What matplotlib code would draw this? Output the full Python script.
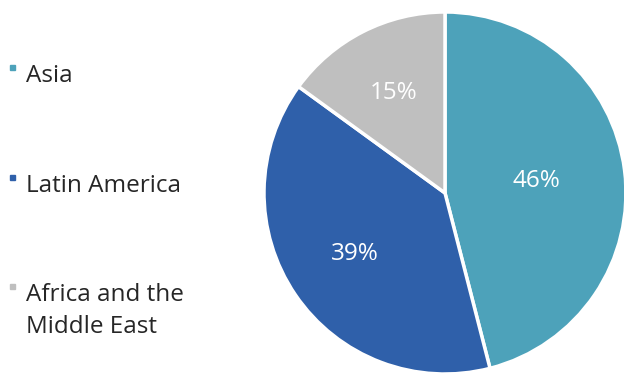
import numpy as np
import matplotlib.pyplot as plt
from matplotlib.patches import Rectangle

regions = ['Asia', 'Latin America', 'Africa and the\nMiddle East']
shares = [46, 39, 15]
colors = ['#4DA2BA', '#2F60AA', '#BFBFBF']
legend_y = [76, 186, 311]  # pixel rows of the legend entries (from top)

W, H = 624, 374
fig = plt.figure(figsize=(W / 100, H / 100), dpi=100)
plt.rcParams['font.family'] = ['Open Sans', 'DejaVu Sans']

# pie sits on the right, slightly cut at the bottom
ax = fig.add_axes([264 / W, 0 / H, 362 / W, 362 / H])
wedges, _ = ax.pie(shares, colors=colors, startangle=90, counterclock=False,
                   wedgeprops=dict(edgecolor='white', linewidth=2.5))
ax.set_xlim(-1, 1)
ax.set_ylim(-1, 1)
ax.set_aspect('equal')
ax.axis('off')

# percentage labels inside the wedges
label_r = [0.51, 0.60, 0.62]
for w, v, r in zip(wedges, shares, label_r):
    ang = np.deg2rad((w.theta1 + w.theta2) / 2)
    ax.text(r * np.cos(ang), r * np.sin(ang), f'{v}%', color='white',
            fontsize=17.5, ha='center', va='center')

# legend on the left
for name, c, y in zip(regions, colors, legend_y):
    n_lines = name.count('\n') + 1
    top = y - (n_lines - 1) * 16
    fig.patches.append(Rectangle((10 / W, 1 - (top - 6) / H), 5 / W, 5 / H,
                                 transform=fig.transFigure, color=c))
    fig.text(26 / W, 1 - y / H, name, fontsize=17.5, color='#262626',
             ha='left', va='center', linespacing=1.4)

fig.savefig('out.png', dpi=100)
